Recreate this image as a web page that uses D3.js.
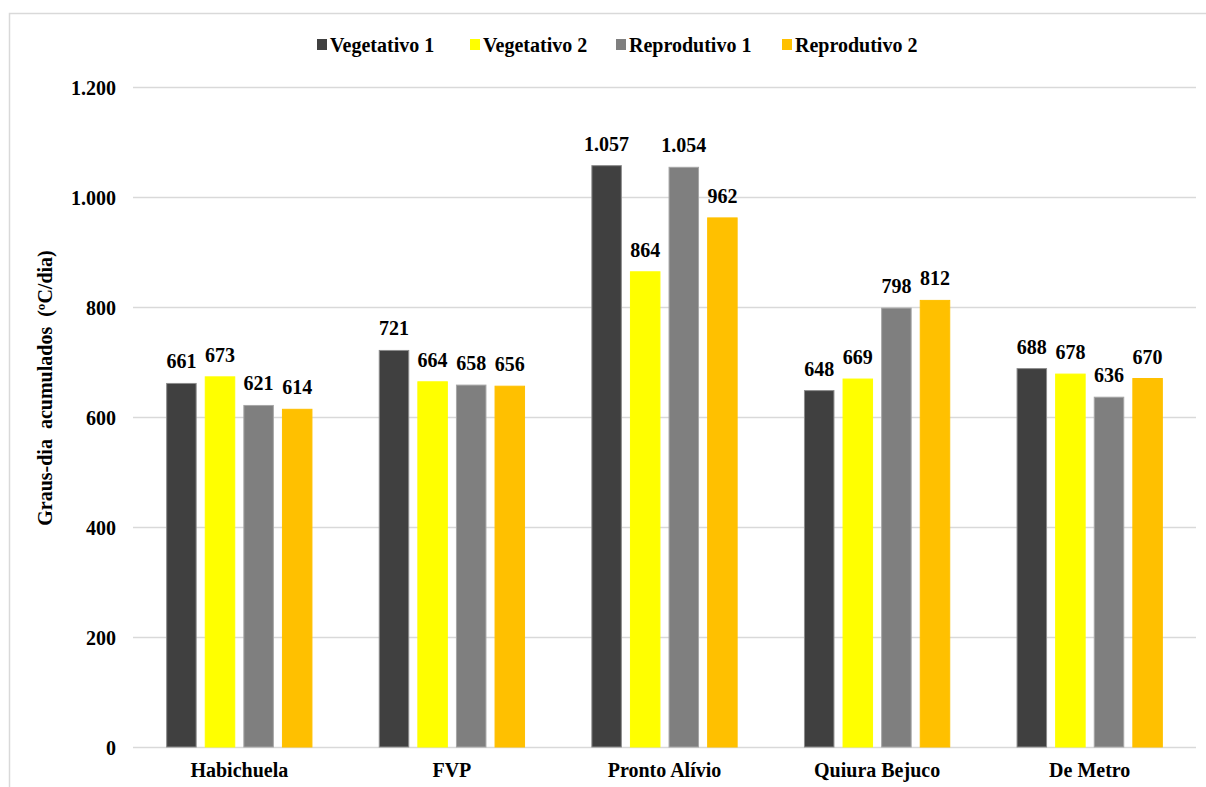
<!DOCTYPE html>
<html>
<head>
<meta charset="utf-8">
<script src="https://cdn.jsdelivr.net/npm/d3@7"></script>
<style>
  html, body { margin: 0; padding: 0; background: #fff; }
  svg { display: block; }
  text { font-family: "Liberation Serif", "Times New Roman", serif; font-weight: bold; fill: #000; }
</style>
</head>
<body>
<svg id="chart" width="1206" height="787"></svg>
<script>
// Accumulated growing degree-days by cultivar and phase
const categories = ["Habichuela", "FVP", "Pronto Alívio", "Quiura Bejuco", "De Metro"];
const seriesNames = ["Vegetativo 1", "Vegetativo 2", "Reprodutivo 1", "Reprodutivo 2"];
const vegetativo1 = [661, 721, 1057, 648, 688];
const vegetativo2 = [673, 664, 864, 669, 678];
const reprodutivo1 = [621, 658, 1054, 798, 636];
const reprodutivo2 = [614, 656, 962, 812, 670];
const yTicks = [0, 200, 400, 600, 800, 1000, 1200];
const yTitle = "Graus-dia  acumulados  (ºC/dia)";

const seriesValues = [vegetativo1, vegetativo2, reprodutivo1, reprodutivo2];
const colors = ["#404040", "#ffff00", "#7f7f7f", "#ffc000"];
const strokes = ["#8c8c8c", "#ffff00", "#a6a6a6", "#ffc000"];

const FONT = "'Liberation Serif', 'Times New Roman', serif";
const svg = d3.select("#chart");
const fmt = v => d3.format(",")(v).replace(/,/g, ".");

// outer frame
svg.append("rect").attr("x", 9.5).attr("y", 13.5).attr("width", 1210).attr("height", 800)
  .attr("fill", "none").attr("stroke", "#d9d9d9").attr("stroke-width", 1.5);

const plot = { left: 133, right: 1196, top: 87, bottom: 747 };

const x0 = d3.scaleBand().domain(categories).range([plot.left, plot.right]).paddingInner(0).paddingOuter(0);
const x1 = d3.scaleBand().domain(seriesNames).range([0, 154]).paddingInner(0.21).paddingOuter(0.1);
const y = d3.scaleLinear().domain([0, 1200]).range([plot.bottom, plot.top]);

// gridlines
svg.append("g").selectAll("line").data(yTicks).join("line")
  .attr("x1", plot.left).attr("x2", plot.right)
  .attr("y1", d => Math.round(y(d)) + 0.5).attr("y2", d => Math.round(y(d)) + 0.5)
  .attr("stroke", "#d9d9d9").attr("stroke-width", 1.5);

// y axis tick labels
const yAxis = d3.axisLeft(y).tickValues(yTicks).tickFormat(fmt).tickSize(0).tickPadding(0);
const yg = svg.append("g").attr("transform", `translate(116,1)`).call(yAxis);
yg.select(".domain").remove();
yg.selectAll("text").style("font-size", "20px")
  .style("font-family", FONT).style("font-weight", "bold").attr("fill", "#000");

// x axis category labels
const xAxis = d3.axisBottom(x0).tickSize(0).tickPadding(0);
const xg = svg.append("g").attr("transform", `translate(0,777)`).call(xAxis);
xg.select(".domain").remove();
xg.selectAll("text").style("font-size", "20px")
  .style("font-family", FONT).style("font-weight", "bold").attr("fill", "#000")
  .attr("dy", "0");

// bars
const groupOffset = (x0.bandwidth() - 154) / 2;
const groups = svg.append("g").selectAll("g").data(categories).join("g")
  .attr("transform", d => `translate(${x0(d) + groupOffset},0)`);

groups.each(function(cat, ci) {
  const g = d3.select(this);
  seriesNames.forEach((s, si) => {
    const v = seriesValues[si][ci];
    g.append("rect")
      .attr("x", x1(s) + 0.5).attr("width", x1.bandwidth() - 1)
      .attr("y", y(v)).attr("height", y(0) - y(v))
      .attr("fill", colors[si]).attr("stroke", strokes[si]).attr("stroke-width", 1);
    g.append("text")
      .attr("x", x1(s) + x1.bandwidth() / 2).attr("y", y(v) - 15)
      .attr("text-anchor", "middle").style("font-size", "20px")
      .text(fmt(v));
  });
});

// y title
svg.append("text")
  .attr("transform", `translate(52,388) rotate(-90)`)
  .attr("text-anchor", "middle").style("font-size", "20px")
  .attr("xml:space", "preserve").style("white-space", "pre")
  .text(yTitle);

// legend
const legendX = [317, 470, 616, 782];
const legend = svg.append("g").selectAll("g").data(seriesNames).join("g")
  .attr("transform", (d, i) => `translate(${legendX[i]},45)`);
legend.append("rect").attr("x", 0).attr("y", -6).attr("width", 10).attr("height", 11)
  .attr("fill", (d, i) => colors[i]);
legend.append("text").attr("x", 13).attr("y", 7)
  .style("font-size", "20px").text(d => d);
</script>
</body>
</html>
